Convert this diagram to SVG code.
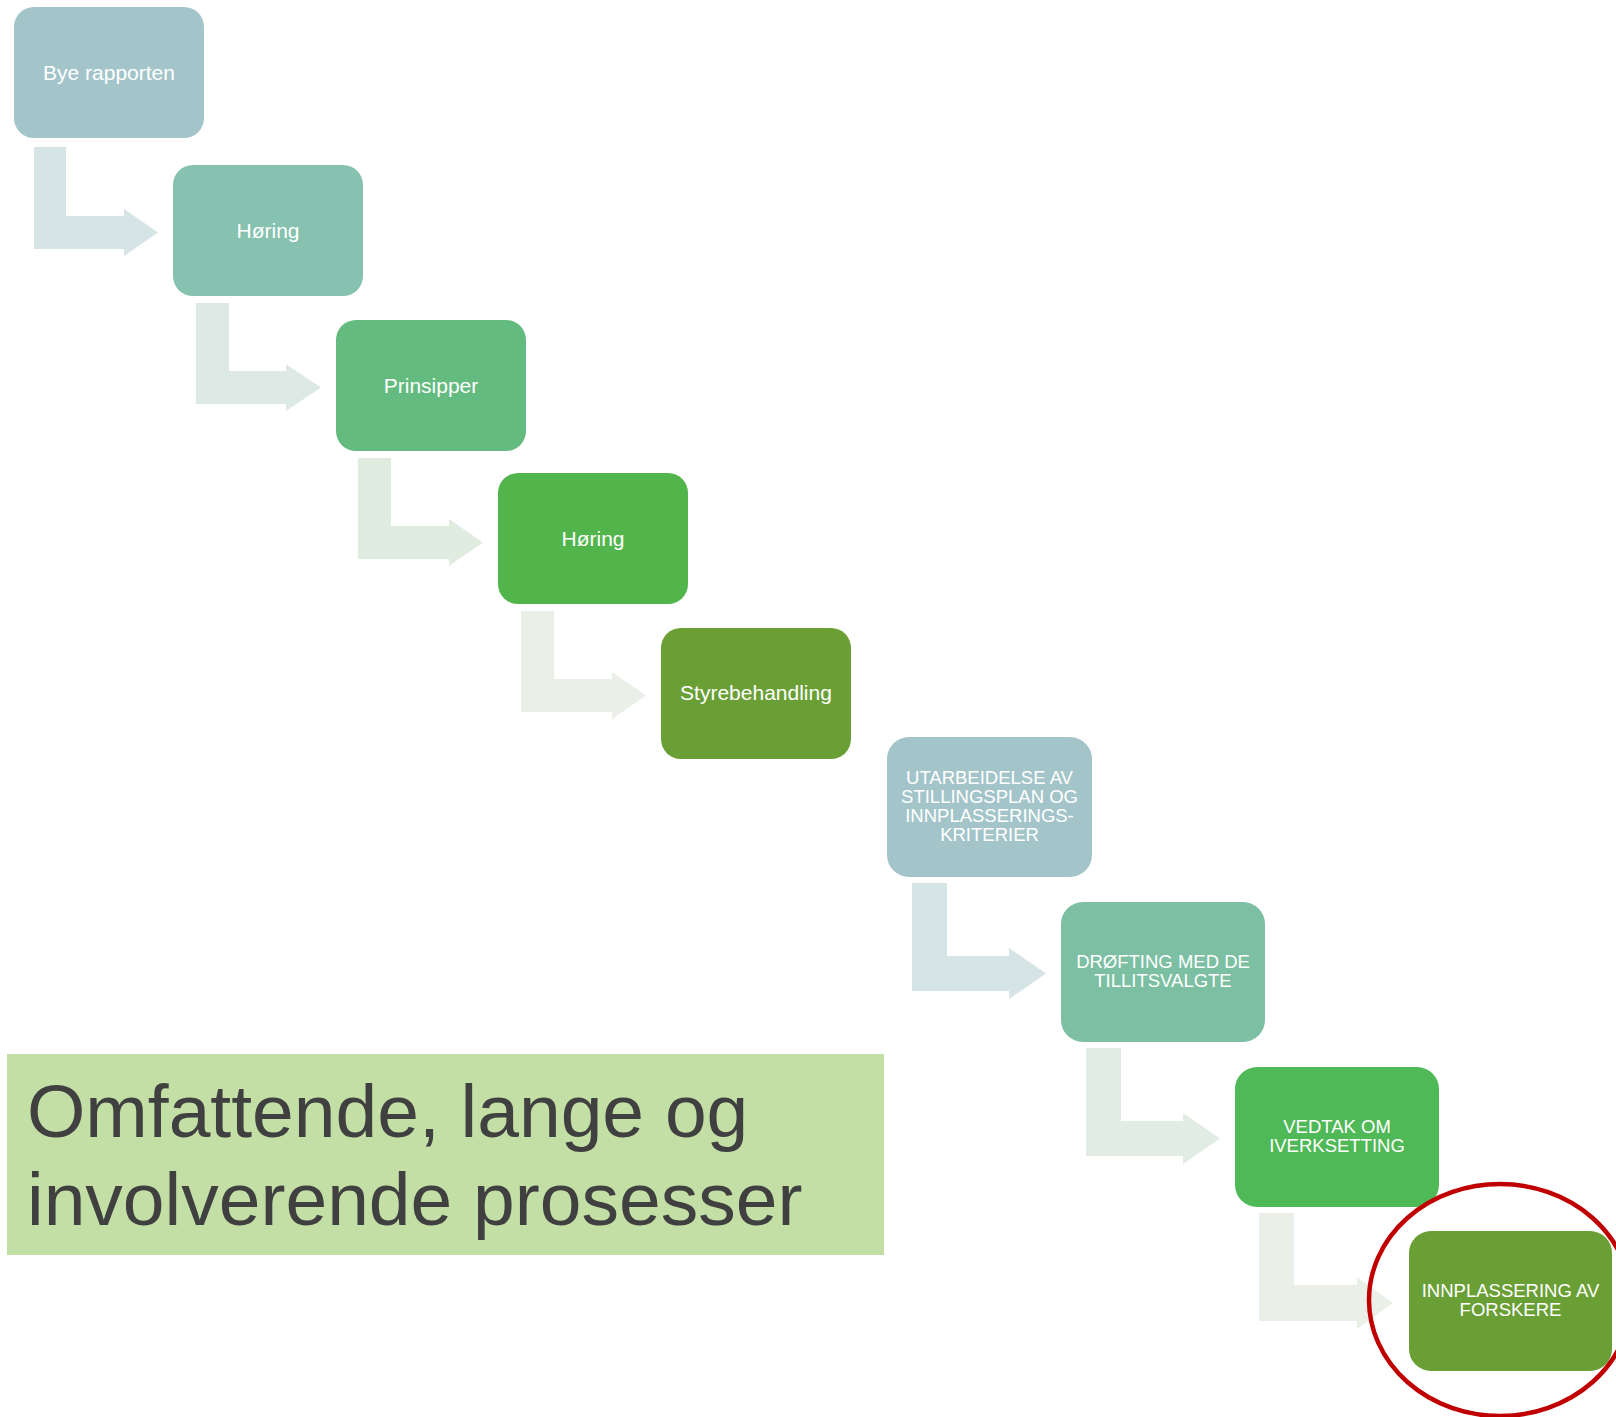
<svg xmlns="http://www.w3.org/2000/svg" width="1616" height="1417" viewBox="0 0 1616 1417">
<style>
.t{font-family:"Liberation Sans",Arial,sans-serif;fill:#FFFFFF;text-anchor:middle}
.u{font-size:21px}
.l{font-size:18.5px}
.big{font-family:"Liberation Sans",Arial,sans-serif;font-size:75px;fill:#404040}
</style>
<rect width="1616" height="1417" fill="#FFFFFF"/>
<g id="connectors">
<path d="M34,147 H66 V216 H124 V209 L158,232.5 L124,256 V249 H34 Z" fill="#D6E4E6"/>
<path d="M196,303 H229 V371 H286 V364 L321,387.5 L286,411 V404 H196 Z" fill="#DCE9E4"/>
<path d="M358,458 H391 V526 H449 V519 L483,542.5 L449,566 V559 H358 Z" fill="#E1ECE1"/>
<path d="M521,611 H554 V679 H612 V672 L646,695.5 L612,719 V712 H521 Z" fill="#EAF0E8"/>
<path d="M912,883 H947 V956 H1009 V948 L1046,973.5 L1009,999 V991 H912 Z" fill="#D6E4E6"/>
<path d="M1086,1048 H1121 V1121 H1183 V1113 L1220,1138.5 L1183,1164 V1156 H1086 Z" fill="#E1ECE4"/>
<path d="M1259,1213 H1294 V1285 H1357 V1277 L1393,1303 L1357,1329 V1321 H1259 Z" fill="#EAF0E8"/>
</g>
<g id="n1"><rect x="14" y="7" width="190" height="131" rx="20" fill="#A3C5CA"/><text class="t u" x="109" y="80">Bye rapporten</text></g>
<g id="n2"><rect x="173" y="165" width="190" height="131" rx="20" fill="#86C2AF"/><text class="t u" x="268" y="238">Høring</text></g>
<g id="n3"><rect x="336" y="320" width="190" height="131" rx="20" fill="#63BB7F"/><text class="t u" x="431" y="393">Prinsipper</text></g>
<g id="n4"><rect x="498" y="473" width="190" height="131" rx="20" fill="#51B54B"/><text class="t u" x="593" y="546">Høring</text></g>
<g id="n5"><rect x="661" y="628" width="190" height="131" rx="20" fill="#6A9F36"/><text class="t u" x="756" y="700">Styrebehandling</text></g>
<g id="n6"><rect x="887" y="737" width="205" height="140" rx="22" fill="#A3C5CA"/>
<text class="t l" x="989.5" y="784">UTARBEIDELSE AV</text>
<text class="t l" x="989.5" y="803">STILLINGSPLAN OG</text>
<text class="t l" x="989.5" y="822">INNPLASSERINGS-</text>
<text class="t l" x="989.5" y="841">KRITERIER</text></g>
<g id="n7"><rect x="1061" y="902" width="204" height="140" rx="22" fill="#7CBFA2"/>
<text class="t l" x="1163" y="968">DRØFTING MED DE</text>
<text class="t l" x="1163" y="987">TILLITSVALGTE</text></g>
<g id="n8"><rect x="1235" y="1067" width="204" height="140" rx="22" fill="#50B957"/>
<text class="t l" x="1337" y="1133">VEDTAK OM</text>
<text class="t l" x="1337" y="1152">IVERKSETTING</text></g>
<g id="n9"><rect x="1409" y="1231" width="203" height="140" rx="22" fill="#6A9F36"/>
<text class="t l" x="1510.5" y="1297">INNPLASSERING AV</text>
<text class="t l" x="1510.5" y="1316">FORSKERE</text></g>
<g id="highlight"><ellipse cx="1500" cy="1300" rx="131" ry="116" fill="none" stroke="#C00000" stroke-width="4.5"/></g>
<g id="caption"><rect x="7" y="1054" width="877" height="201" fill="#C3DFA6"/>
<text class="big" x="27" y="1137">Omfattende, lange og</text>
<text class="big" x="27" y="1225">involverende prosesser</text></g>
</svg>
